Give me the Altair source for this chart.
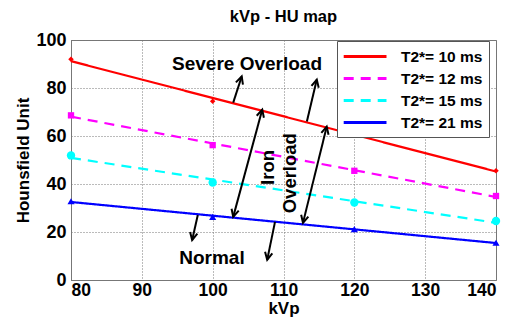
import math
import altair as alt
import pandas as pd

kvp = [80, 100, 120, 140]
series = ["T2*= 10 ms", "T2*= 12 ms", "T2*= 15 ms", "T2*= 21 ms"]
hu_10 = [92.0, 74.5, 60.8, 45.5]
hu_12 = [68.6, 56.2, 45.5, 35.0]
hu_15 = [51.9, 40.6, 32.3, 24.6]
hu_21 = [32.8, 26.3, 21.2, 15.5]
colors = ["#ff0000", "#ff00ff", "#00ffff", "#0000ff"]
dashes = [[1, 0], [10, 7], [10, 7], [1, 0]]
shapes = ["diamond", "square", "circle", "triangle-up"]
sizes = [30, 40, 70, 50]

# arrows: tail (x1,y1) -> tip (x2,y2); double-headed flagged
arrow_x1 = [102.9, 113.3, 102.9, 112.75, 97.9, 108.8]
arrow_y1 = [73.9, 66.0, 26.3, 23.8, 27.1, 24.2]
arrow_x2 = [104.1, 114.7, 107.0, 116.1, 97.1, 107.7]
arrow_y2 = [84.8, 83.5, 71.0, 63.9, 16.6, 8.4]
arrow_double = [False, False, True, True, False, False]

labels_text = ["Severe Overload", "Normal"]
labels_x = [104.85, 99.9]
labels_y = [89.8, 9.2]
vlabels_text = ["Iron", "Overload"]
vlabels_x = [107.8, 110.9]
vlabels_y = [46.9, 44.5]

W, H = 425, 240
FONT = "Liberation Sans"

rows = []
for s, vals in zip(series, [hu_10, hu_12, hu_15, hu_21]):
    for k, v in zip(kvp, vals):
        rows.append({"kvp": k, "hu": v, "series": s})
df = pd.DataFrame(rows)

heads = []
shafts = []
for x1, y1, x2, y2, d in zip(arrow_x1, arrow_y1, arrow_x2, arrow_y2, arrow_double):
    shafts.append({"x1": x1, "y1": y1, "x2": x2, "y2": y2})
    dx = (x2 - x1) * W / 60.0
    dy = (y2 - y1) * H / 100.0
    ang = math.degrees(math.atan2(dx, dy)) % 360
    heads.append({"x": x2, "y": y2, "angle": ang})
    if d:
        heads.append({"x": x1, "y": y1, "angle": (ang + 180) % 360})
shaft_df = pd.DataFrame(shafts)
head_df = pd.DataFrame(heads)

xscale = alt.Scale(domain=[80, 140], nice=False, zero=False)
yscale = alt.Scale(domain=[0, 100], nice=False)
xenc = alt.X("kvp:Q", scale=xscale,
             axis=alt.Axis(title="kVp", values=[80, 90, 100, 110, 120, 130, 140]))
yenc = alt.Y("hu:Q", scale=yscale,
             axis=alt.Axis(title="Hounsfield Unit", values=[0, 20, 40, 60, 80, 100]))

legend_props = dict(title=None, orient="none", legendX=266, legendY=1,
                    symbolType="M -1.1 0 L 4.25 0", symbolSize=256,
                    symbolStrokeWidth=3, labelFont=FONT,
                    labelFontSize=15.5, labelFontWeight="bold",
                    labelColor="black", fillColor="white",
                    strokeColor="#555555", padding=6,
                    rowPadding=4, labelOffset=39)

color_enc = alt.Color("series:N", scale=alt.Scale(domain=series, range=colors),
                      legend=alt.Legend(**legend_props))
dash_enc = alt.StrokeDash("series:N", scale=alt.Scale(domain=series, range=dashes),
                          legend=alt.Legend(**legend_props))

lines = alt.Chart(df).transform_regression(
    "kvp", "hu", groupby=["series"], extent=[80, 140]
).mark_line(strokeWidth=2.2).encode(x=xenc, y=yenc, color=color_enc, strokeDash=dash_enc)

point_layers = []
for s, c, sh, sz in zip(series, colors, shapes, sizes):
    point_layers.append(
        alt.Chart(df).transform_filter(alt.datum.series == s).mark_point(
            filled=True, opacity=1, strokeWidth=0, fill=c, shape=sh, size=sz
        ).encode(x=xenc, y=yenc)
    )

shaft = alt.Chart(shaft_df).mark_rule(color="black", strokeWidth=2).encode(
    x=alt.X("x1:Q", scale=xscale), y=alt.Y("y1:Q", scale=yscale),
    x2="x2:Q", y2="y2:Q")

head = alt.Chart(head_df).mark_point(
    shape="M -0.5 1 L 0 0 L 0.5 1", filled=False, stroke="black",
    strokeWidth=2, size=220, opacity=1
).encode(x=alt.X("x:Q", scale=xscale), y=alt.Y("y:Q", scale=yscale),
         angle=alt.Angle("angle:Q", scale=None))

ldf = pd.DataFrame({"t": labels_text, "x": labels_x, "y": labels_y})
texts = alt.Chart(ldf).mark_text(font=FONT, fontSize=19, fontWeight="bold",
                                 color="black").encode(
    x=alt.X("x:Q", scale=xscale), y=alt.Y("y:Q", scale=yscale), text="t:N")

vdf = pd.DataFrame({"t": vlabels_text, "x": vlabels_x, "y": vlabels_y})
vtexts = alt.Chart(vdf).mark_text(font=FONT, fontSize=18.5, fontWeight="bold",
                                  color="black", angle=270).encode(
    x=alt.X("x:Q", scale=xscale), y=alt.Y("y:Q", scale=yscale), text="t:N")

chart = alt.layer(lines, *point_layers, shaft, head, texts, vtexts).properties(
    width=W, height=H,
    title=alt.TitleParams("kVp - HU map", font=FONT, fontSize=16.5, fontWeight="bold",
                          color="black", offset=6),
    autosize=alt.AutoSizeParams(type="none"),
    padding={"left": 63, "top": 32, "right": 11, "bottom": 38},
).configure_axis(
    labelFont=FONT, labelFontSize=18, labelFontWeight="bold", labelColor="black",
    titleFont=FONT, titleFontSize=17, titleFontWeight="bold", titleColor="black",
    grid=True, gridColor="#777777", gridDash=[1, 2], gridWidth=1,
    domainColor="#777777", tickSize=0,
).configure_axisY(titlePadding=3, labelPadding=5).configure_axisX(
    titlePadding=2, labelPadding=1, labelFontSize=17.5
).configure_view(
    stroke="#777777", strokeWidth=1
)

chart.save("out.html", embed_options={"renderer": "svg", "actions": False})
